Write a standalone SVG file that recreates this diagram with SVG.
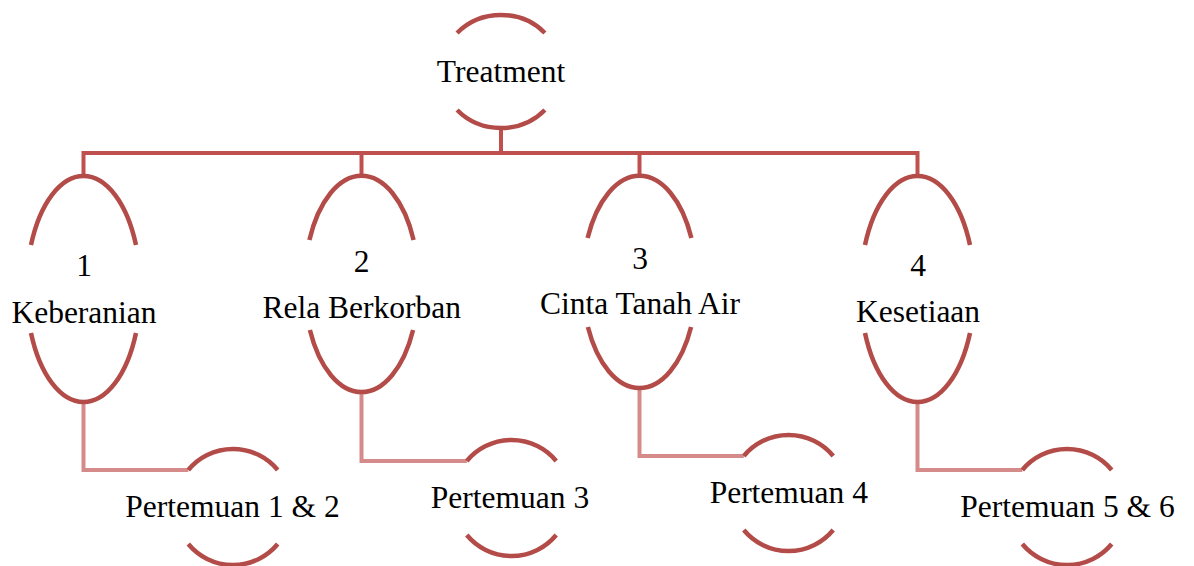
<svg xmlns="http://www.w3.org/2000/svg" width="1194" height="566" viewBox="0 0 1194 566">
<style>
.arc{fill:none;stroke:#b34c48;stroke-width:4.5}
.c1{fill:none;stroke:#c0504d;stroke-width:4;stroke-linejoin:miter}
.c2{fill:none;stroke:#d58b89;stroke-width:4;stroke-linejoin:miter}
text{font-family:"Liberation Serif","Times New Roman",serif;font-size:31.5px;fill:#000;text-anchor:middle}
</style>
<rect width="1194" height="566" fill="#fff"/>
<g id="connectors">
<path class="c1" d="M501 128 V153"/>
<path class="c1" d="M83.5 176 V153 H917.5 V176"/>
<path class="c1" d="M361.5 153 V176"/>
<path class="c1" d="M639.5 153 V176"/>
<path class="c2" d="M83.5 402 V470 H188.3"/>
<path class="c2" d="M361.5 392 V461 H466.8"/>
<path class="c2" d="M639.5 388 V456 H743.8"/>
<path class="c2" d="M917.5 402 V470 H1022.3"/>
</g>
<g id="treatment">
<path class="arc" d="M457.1 33 A60 56.5 0 0 1 544.9 33"/>
<path class="arc" d="M544.9 110 A60 56.5 0 0 1 457.1 110"/>
<text x="501" y="81.5">Treatment</text>
</g>
<g id="node1">
<path class="arc" d="M31 245 A57 113 0 0 1 136 245"/>
<path class="arc" d="M136 333 A57 113 0 0 1 31 333"/>
<text x="84" y="275.5">1</text>
<text x="84" y="322.5">Keberanian</text>
</g>
<g id="node2">
<path class="arc" d="M309.4 240 A57 108 0 0 1 413.6 240"/>
<path class="arc" d="M413.1 330 A57 108 0 0 1 309.9 330"/>
<text x="361.7" y="271.7">2</text>
<text x="361.7" y="317.7">Rela Berkorban</text>
</g>
<g id="node3">
<path class="arc" d="M587.6 238 A57 106 0 0 1 691.4 238"/>
<path class="arc" d="M691.1 327 A57 106 0 0 1 587.9 327"/>
<text x="640" y="269">3</text>
<text x="640" y="314.3">Cinta Tanah Air</text>
</g>
<g id="node4">
<path class="arc" d="M865 245 A57 113 0 0 1 970 245"/>
<path class="arc" d="M970 333 A57 113 0 0 1 865 333"/>
<text x="918" y="276">4</text>
<text x="918" y="321.7">Kesetiaan</text>
</g>
<g id="child1">
<path class="arc" d="M188.3 470 A58 58 0 0 1 277.7 470"/>
<path class="arc" d="M277.7 544 A58 58 0 0 1 188.3 544"/>
<text x="232.5" y="516.7">Pertemuan 1 &amp; 2</text>
</g>
<g id="child2">
<path class="arc" d="M466.8 461 A58 58 0 0 1 556.2 461"/>
<path class="arc" d="M556.2 535 A58 58 0 0 1 466.8 535"/>
<text x="510" y="508.3">Pertemuan 3</text>
</g>
<g id="child3">
<path class="arc" d="M743.8 456 A58 58 0 0 1 833.2 456"/>
<path class="arc" d="M833.2 530 A58 58 0 0 1 743.8 530"/>
<text x="788.8" y="503.3">Pertemuan 4</text>
</g>
<g id="child4">
<path class="arc" d="M1022.3 470 A58 58 0 0 1 1111.7 470"/>
<path class="arc" d="M1111.7 544 A58 58 0 0 1 1022.3 544"/>
<text x="1067.5" y="516.7">Pertemuan 5 &amp; 6</text>
</g>
</svg>
